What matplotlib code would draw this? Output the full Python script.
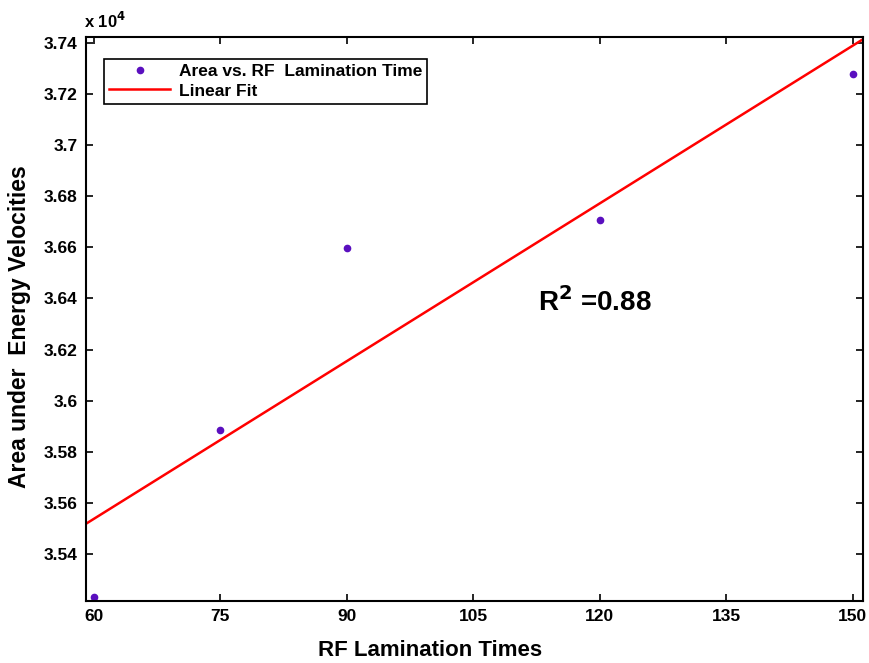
import matplotlib
matplotlib.use("Agg")
import matplotlib.pyplot as plt
import numpy as np

plt.rcParams['font.family'] = ['Liberation Sans', 'DejaVu Sans']
plt.rcParams['font.weight'] = 'bold'

times = [60, 75, 90, 120, 150]
area = [3.5231, 3.5886, 3.6597, 3.6706, 3.7278]
xticks = [60, 75, 90, 105, 120, 135, 150]
yticks = [3.54, 3.56, 3.58, 3.60, 3.62, 3.64, 3.66, 3.68, 3.70, 3.72, 3.74]
ytick_labels = ['3.54', '3.56', '3.58', '3.6', '3.62', '3.64', '3.66', '3.68', '3.7', '3.72', '3.74']

fig = plt.figure(figsize=(8.69, 6.63), dpi=100)
ax = fig.add_axes([86/869, 62/663, 777/869, 564/663])

xlim = (59.1, 151.2)
coef = np.polyfit(times, area, 1)
xf = np.linspace(xlim[0], xlim[1], 200)
ax.plot(times, area, linestyle='none', marker='o', markersize=4.5,
        color='#5a0fbf', label='Area vs. RF  Lamination Time')
ax.plot(xf, np.polyval(coef, xf), color='#ff0000', linewidth=1.8, label='Linear Fit')

ax.set_xlim(*xlim)
ax.set_ylim(3.5217, 3.7422)
ax.set_xticks(xticks)
ax.set_xticklabels([str(t) for t in xticks])
ax.set_yticks(yticks)
ax.set_yticklabels(ytick_labels)
ax.tick_params(direction='in', top=True, right=True, length=5, width=1.2,
               labelsize=12.5, pad=6)
for lab in ax.get_xticklabels() + ax.get_yticklabels():
    lab.set_fontweight('bold')
for s in ax.spines.values():
    s.set_linewidth(1.5)

ax.set_xlabel('RF Lamination Times', fontsize=16, fontweight='bold')
ax.xaxis.label.set_verticalalignment('center')
ax.xaxis.set_label_coords((430 - 86) / 777, -(650 - 601) / 564)
ax.set_ylabel('Area under  Energy Velocities', fontsize=16.5, fontweight='bold')
ax.yaxis.label.set_verticalalignment('center')
ax.yaxis.set_label_coords(-(86 - 20) / 777, (601 - 327) / 564)

ax.text(112.7, 3.6385, r'R$^{2}$ =0.88', fontsize=20, fontweight='bold',
        va='center', ha='left')
fig.text(84/869, 1 - 21/663, r'x 10$^{4}$', fontsize=12, fontweight='bold',
         va='center', ha='left')

leg = ax.legend(loc='upper left', bbox_to_anchor=(0.012, 0.977), fancybox=False,
                edgecolor='black', framealpha=1, fontsize=12.5, handlelength=3.5,
                borderpad=0.3, labelspacing=0.25, handletextpad=0.5)
leg.get_frame().set_linewidth(1.2)
for t in leg.get_texts():
    t.set_fontweight('bold')

fig.savefig('out.png', dpi=100, facecolor='white')
